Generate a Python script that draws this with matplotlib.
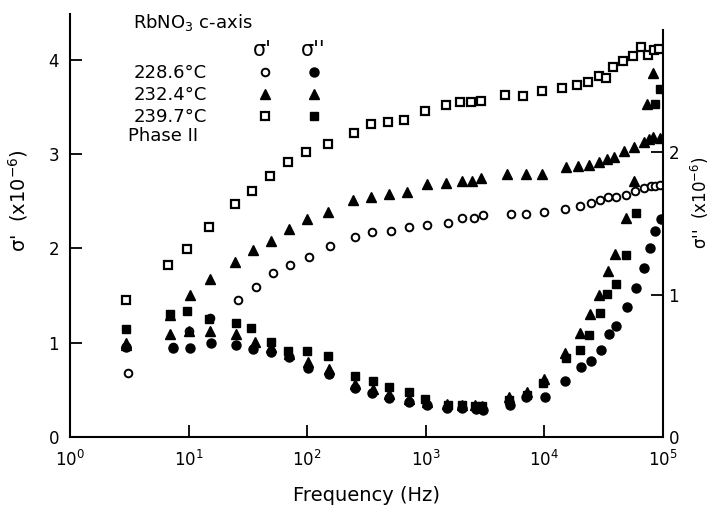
"""
RbNO3 c-axis, phase II: sigma' and sigma'' vs frequency at three temperatures
"""
import matplotlib
matplotlib.use('Agg')
import matplotlib.pyplot as plt
from matplotlib.ticker import NullLocator, FixedLocator

plt.rcParams['font.family'] = ['DejaVu Sans']
plt.rcParams['mathtext.fontset'] = 'dejavusans'

temps = ['228.6°C', '232.4°C', '239.7°C']

# sigma' (x10^-6), left axis
f_re_1 = [3.10, 7.39, 10.1, 15.2, 26.1, 37.0, 51.8, 71.6, 104, 156, 253, 350, 509, 722,
          1018, 1530, 2008, 2550, 3054, 5198, 6956, 9980, 14920, 19960, 24710, 29150,
          34390, 40160, 49230, 58630, 69150, 78460, 85600, 94340]
re_1 = [0.68, 0.95, 1.12, 1.26, 1.45, 1.59, 1.74, 1.82, 1.91, 2.03, 2.12, 2.17, 2.19, 2.23,
        2.25, 2.27, 2.32, 2.32, 2.35, 2.36, 2.36, 2.39, 2.42, 2.45, 2.48, 2.51,
        2.54, 2.55, 2.57, 2.61, 2.64, 2.66, 2.66, 2.67]

f_re_2 = [2.97, 6.97, 10.3, 15.2, 24.6, 35.1, 49.2, 70.6, 99.6, 151, 243, 345, 492, 698,
          1029, 1480, 2032, 2467, 2904, 4866, 6956, 9600, 15120, 19310, 23910, 28870,
          33510, 38630, 47170, 57280, 69560, 76210, 82830, 94340]
re_2 = [1.00, 1.29, 1.51, 1.68, 1.86, 1.98, 2.08, 2.21, 2.31, 2.39, 2.51, 2.55, 2.58, 2.60,
        2.68, 2.69, 2.72, 2.72, 2.75, 2.79, 2.79, 2.79, 2.86, 2.87, 2.88, 2.92,
        2.95, 2.97, 3.03, 3.08, 3.13, 3.16, 3.18, 3.17]

f_re_3 = [2.95, 6.74, 9.69, 14.9, 24.6, 34.2, 48.6, 69.3, 97.1, 149, 248, 343, 483, 659,
          985, 1480, 1943, 2391, 2904, 4654, 6640, 9600, 14210, 18940, 23090, 28700,
          33060, 38110, 45990, 55320, 65250, 74030, 83480, 92530]
re_3 = [1.45, 1.82, 1.99, 2.23, 2.47, 2.61, 2.77, 2.92, 3.02, 3.11, 3.22, 3.32, 3.34, 3.36,
        3.46, 3.52, 3.55, 3.55, 3.56, 3.63, 3.62, 3.67, 3.70, 3.73, 3.76, 3.83,
        3.81, 3.92, 3.99, 4.04, 4.14, 4.05, 4.10, 4.11]

# sigma'' (x10^-6), right axis
f_im_1 = [2.95, 7.34, 10.3, 15.4, 25.1, 35.1, 49.2, 70.6, 102, 153, 253, 350, 489, 715,
          1023, 1501, 2020, 2650, 3007, 5128, 7000, 10200, 14920, 20550, 24710, 30180,
          35260, 40000, 49420, 59770, 69430, 77700, 85110, 96180]
im_1 = [0.635, 0.623, 0.628, 0.663, 0.647, 0.618, 0.599, 0.559, 0.483, 0.441, 0.342, 0.311,
        0.276, 0.248, 0.223, 0.204, 0.202, 0.199, 0.193, 0.225, 0.283, 0.283, 0.394, 0.492,
        0.534, 0.611, 0.722, 0.780, 0.916, 1.049, 1.190, 1.326, 1.448, 1.532]

f_im_2 = [2.97, 6.97, 10.1, 15.2, 25.1, 36.5, 49.2, 70.6, 102, 153, 253, 357, 489, 715,
          1023, 1510, 2032, 2600, 2995, 5029, 7177, 9920, 14920, 19960, 24240, 29040,
          34050, 39390, 48580, 57500, 73310, 82830]
im_2 = [0.647, 0.722, 0.745, 0.745, 0.724, 0.671, 0.632, 0.583, 0.527, 0.478, 0.372, 0.337,
        0.302, 0.267, 0.246, 0.232, 0.228, 0.225, 0.221, 0.283, 0.318, 0.405, 0.588, 0.729,
        0.863, 0.998, 1.167, 1.285, 1.539, 1.799, 2.340, 2.556]

f_im_3 = [2.95, 6.97, 9.75, 14.9, 25.1, 33.4, 49.2, 69.3, 99.6, 151, 255, 359, 489, 722,
          985, 1548, 2032, 2600, 2995, 5029, 7135, 9790, 15210, 19960, 23910, 29430,
          33700, 39780, 49050, 59190, 85600, 94340]
im_3 = [0.757, 0.862, 0.888, 0.827, 0.799, 0.764, 0.670, 0.606, 0.601, 0.569, 0.430, 0.396,
        0.349, 0.314, 0.267, 0.225, 0.225, 0.218, 0.218, 0.260, 0.295, 0.382, 0.555, 0.611,
        0.720, 0.871, 1.003, 1.075, 1.279, 1.576, 2.340, 2.443]

fig = plt.figure(figsize=(7.1, 5.11), dpi=100)
ax = fig.add_axes([0.0986, 0.1448, 0.8352, 0.8278])
ax2 = ax.twinx()

k = dict(ls='none', color='k')
h1o, = ax.plot(f_re_1, re_1, marker='o', ms=5.5, mfc='white', mew=1.4, **k)
h2o, = ax.plot(f_re_2, re_2, marker='^', ms=6.5, **k)
h3o, = ax.plot(f_re_3, re_3, marker='s', ms=6, mfc='white', mew=1.6, **k)
h1f, = ax2.plot(f_im_1, im_1, marker='o', ms=6.5, **k)
h2f, = ax2.plot(f_im_2, im_2, marker='^', ms=6.5, **k)
h3f, = ax2.plot(f_im_3, im_3, marker='s', ms=6, **k)

ax.set_xscale('log')
ax.set_xlim(1, 1e5)
ax.set_ylim(0, 4.486)
ax2.set_ylim(0, 2.973)
ax.xaxis.set_minor_locator(NullLocator())
ax.yaxis.set_major_locator(FixedLocator([0, 1, 2, 3, 4]))
ax2.yaxis.set_major_locator(FixedLocator([0, 1, 2]))
ax.set_yticklabels(['0', '1', '2', '3', '4'])
ax2.set_yticklabels(['0', '1', '2'])

for s in ['top', 'right']:
    ax.spines[s].set_visible(False)
for s in ['top', 'left', 'bottom']:
    ax2.spines[s].set_visible(False)
ax2.spines['right'].set_bounds(0, 2.86)
for sp in [ax.spines['left'], ax.spines['bottom'], ax2.spines['right']]:
    sp.set_linewidth(1.5)

ax.tick_params(axis='both', direction='in', length=8.5, width=1.3, labelsize=12)
ax.tick_params(axis='y', pad=8)
ax.tick_params(axis='x', pad=9)
ax2.tick_params(axis='y', direction='in', length=8.5, width=1.3, labelsize=12, pad=4)

ax.set_xlabel('Frequency (Hz)', fontsize=14, labelpad=12)
ax.set_ylabel("σ'  (x10$^{-6}$)", fontsize=14)
ax.yaxis.set_label_coords(-0.068, 0.56)
ax2.set_ylabel("σ''  (x10$^{-6}$)", fontsize=12, rotation=90)
ax2.yaxis.set_label_coords(1.043, 0.555)

# key
ax2.text(0.106, 0.981, 'RbNO$_3$ c-axis', transform=ax2.transAxes, fontsize=13, va='center')
ax2.text(0.325, 0.915, "σ'", transform=ax2.transAxes, fontsize=15, va='center', ha='center')
ax2.text(0.410, 0.915, "σ''", transform=ax2.transAxes, fontsize=15, va='center', ha='center')
ax2.text(0.098, 0.712, 'Phase II', transform=ax2.transAxes, fontsize=13, va='center')

leg_a = ax2.legend([h1o, h2o, h3o], temps, loc='center right', bbox_to_anchor=(0.3371, 0.808),
                   markerfirst=False, frameon=False, numpoints=1, fontsize=13,
                   handlelength=0.5, handletextpad=3.0, labelspacing=0.22,
                   borderpad=0, borderaxespad=0)
ax2.add_artist(leg_a)
ax2.legend([h1f, h2f, h3f], [' ', ' ', ' '], loc='center left', bbox_to_anchor=(0.4032, 0.808),
           frameon=False, numpoints=1, fontsize=13,
           handlelength=0.5, handletextpad=0, labelspacing=0.22,
           borderpad=0, borderaxespad=0)

plt.savefig('out.png', dpi=100)
plt.close()
